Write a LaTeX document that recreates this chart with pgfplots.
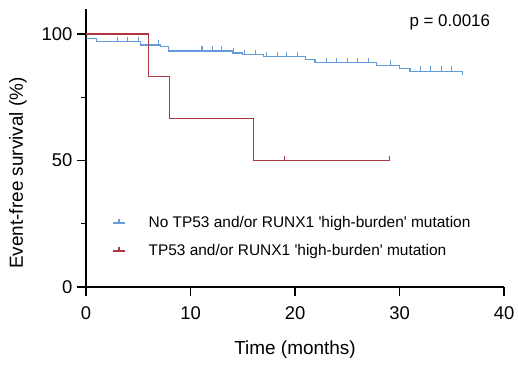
\documentclass[border=0pt]{standalone}
\usepackage{fontspec}
\setmainfont{Liberation Sans}
\usepackage{pgfplots}
\pgfplotsset{compat=1.18}
\definecolor{bl}{RGB}{100,155,220}
\definecolor{rd}{RGB}{175,55,65}
\pgfdeclareplotmark{uptick}{\pgfpathmoveto{\pgfpointorigin}\pgfpathlineto{\pgfpoint{0pt}{\pgfplotmarksize}}\pgfusepathqstroke}
\begin{document}
\begin{tikzpicture}[x=1bp,y=1bp]
\path[use as bounding box] (0,0) rectangle (518,371);
\begin{axis}[
  at={(86bp,84bp)}, anchor=south west,
  scale only axis, width=418bp, height=278.3bp,
  xmin=0, xmax=40, ymin=0, ymax=110,
  axis lines=left,
  axis line style={-, line width=1.6bp},
  xtick={0,10,20,30,40}, ytick={0,50,100}, minor ytick={25,75},
  tick style={black, line width=1.4bp},
  major tick length=9bp, minor tick length=5bp,
  tick align=outside,
  ticklabel style={font=\fontsize{18.5}{20}\selectfont},
  xticklabel style={yshift=-7bp},
  yticklabel style={xshift=-1bp},
  /pgf/number format/assume math mode=true,
  clip=false,
  legend style={at={(axis cs:2.5,28.7)}, anchor=north west, draw=none, fill=none,
    font=\fontsize{15.5}{18}\selectfont, row sep=11.5bp, inner sep=0pt,
    nodes={inner xsep=23bp}},
  legend cell align=left,
  legend image code/.code={\draw[#1] (0bp,0bp) -- (12bp,0bp); \draw[#1] (6bp,0bp) -- (6bp,4bp);},
]
\addplot[bl, line width=1.3bp, const plot] coordinates {
(0,98.3) (1,97.0) (5.2,95.6) (7.1,95.0) (7.9,93.3) (14.0,92.5) (15.0,91.8) (17.0,91.0)
(21.0,89.8) (21.9,88.6) (27.8,87.6) (30.0,86.4) (31.0,85.2) (36.0,83.8)};
\addlegendentry{No TP53 and/or RUNX1 \textquotesingle high-burden\textquotesingle\ mutation}
\addplot[rd, line width=1.3bp, const plot] coordinates {
(0,100) (6,83.3) (8,66.7) (16,50) (29,50)};
\addlegendentry{TP53 and/or RUNX1 \textquotesingle high-burden\textquotesingle\ mutation}
\addplot[bl, only marks, mark=uptick, mark size=5bp, mark options={line width=1.1bp}, forget plot] coordinates {
(3,97.0) (4,97.0) (5,97.0) (6.9,95.6) (11.1,93.3) (12.1,93.3) (13.0,93.3) (14.1,92.5)
(15.2,91.8) (16.2,91.8) (17.3,91.0) (18.3,91.0) (19.2,91.0) (20.2,91.0)
(23,88.6) (24,88.6) (25,88.6) (26,88.6) (27,88.6) (29.1,87.6)
(32,85.2) (33,85.2) (34,85.2) (35,85.2)};
\addplot[rd, only marks, mark=uptick, mark size=5bp, mark options={line width=1.1bp}, forget plot] coordinates {
(19,50) (29,50)};
\node[anchor=east, font=\fontsize{17}{20}\selectfont] at (axis cs:39.0,104.7) {p = 0.0016};
\end{axis}
\node[rotate=90, font=\fontsize{19}{22}\selectfont] at (18,198) {Event-free survival (\%)};
\node[font=\fontsize{19}{22}\selectfont] at (295,21) {Time (months)};
\end{tikzpicture}
\end{document}
